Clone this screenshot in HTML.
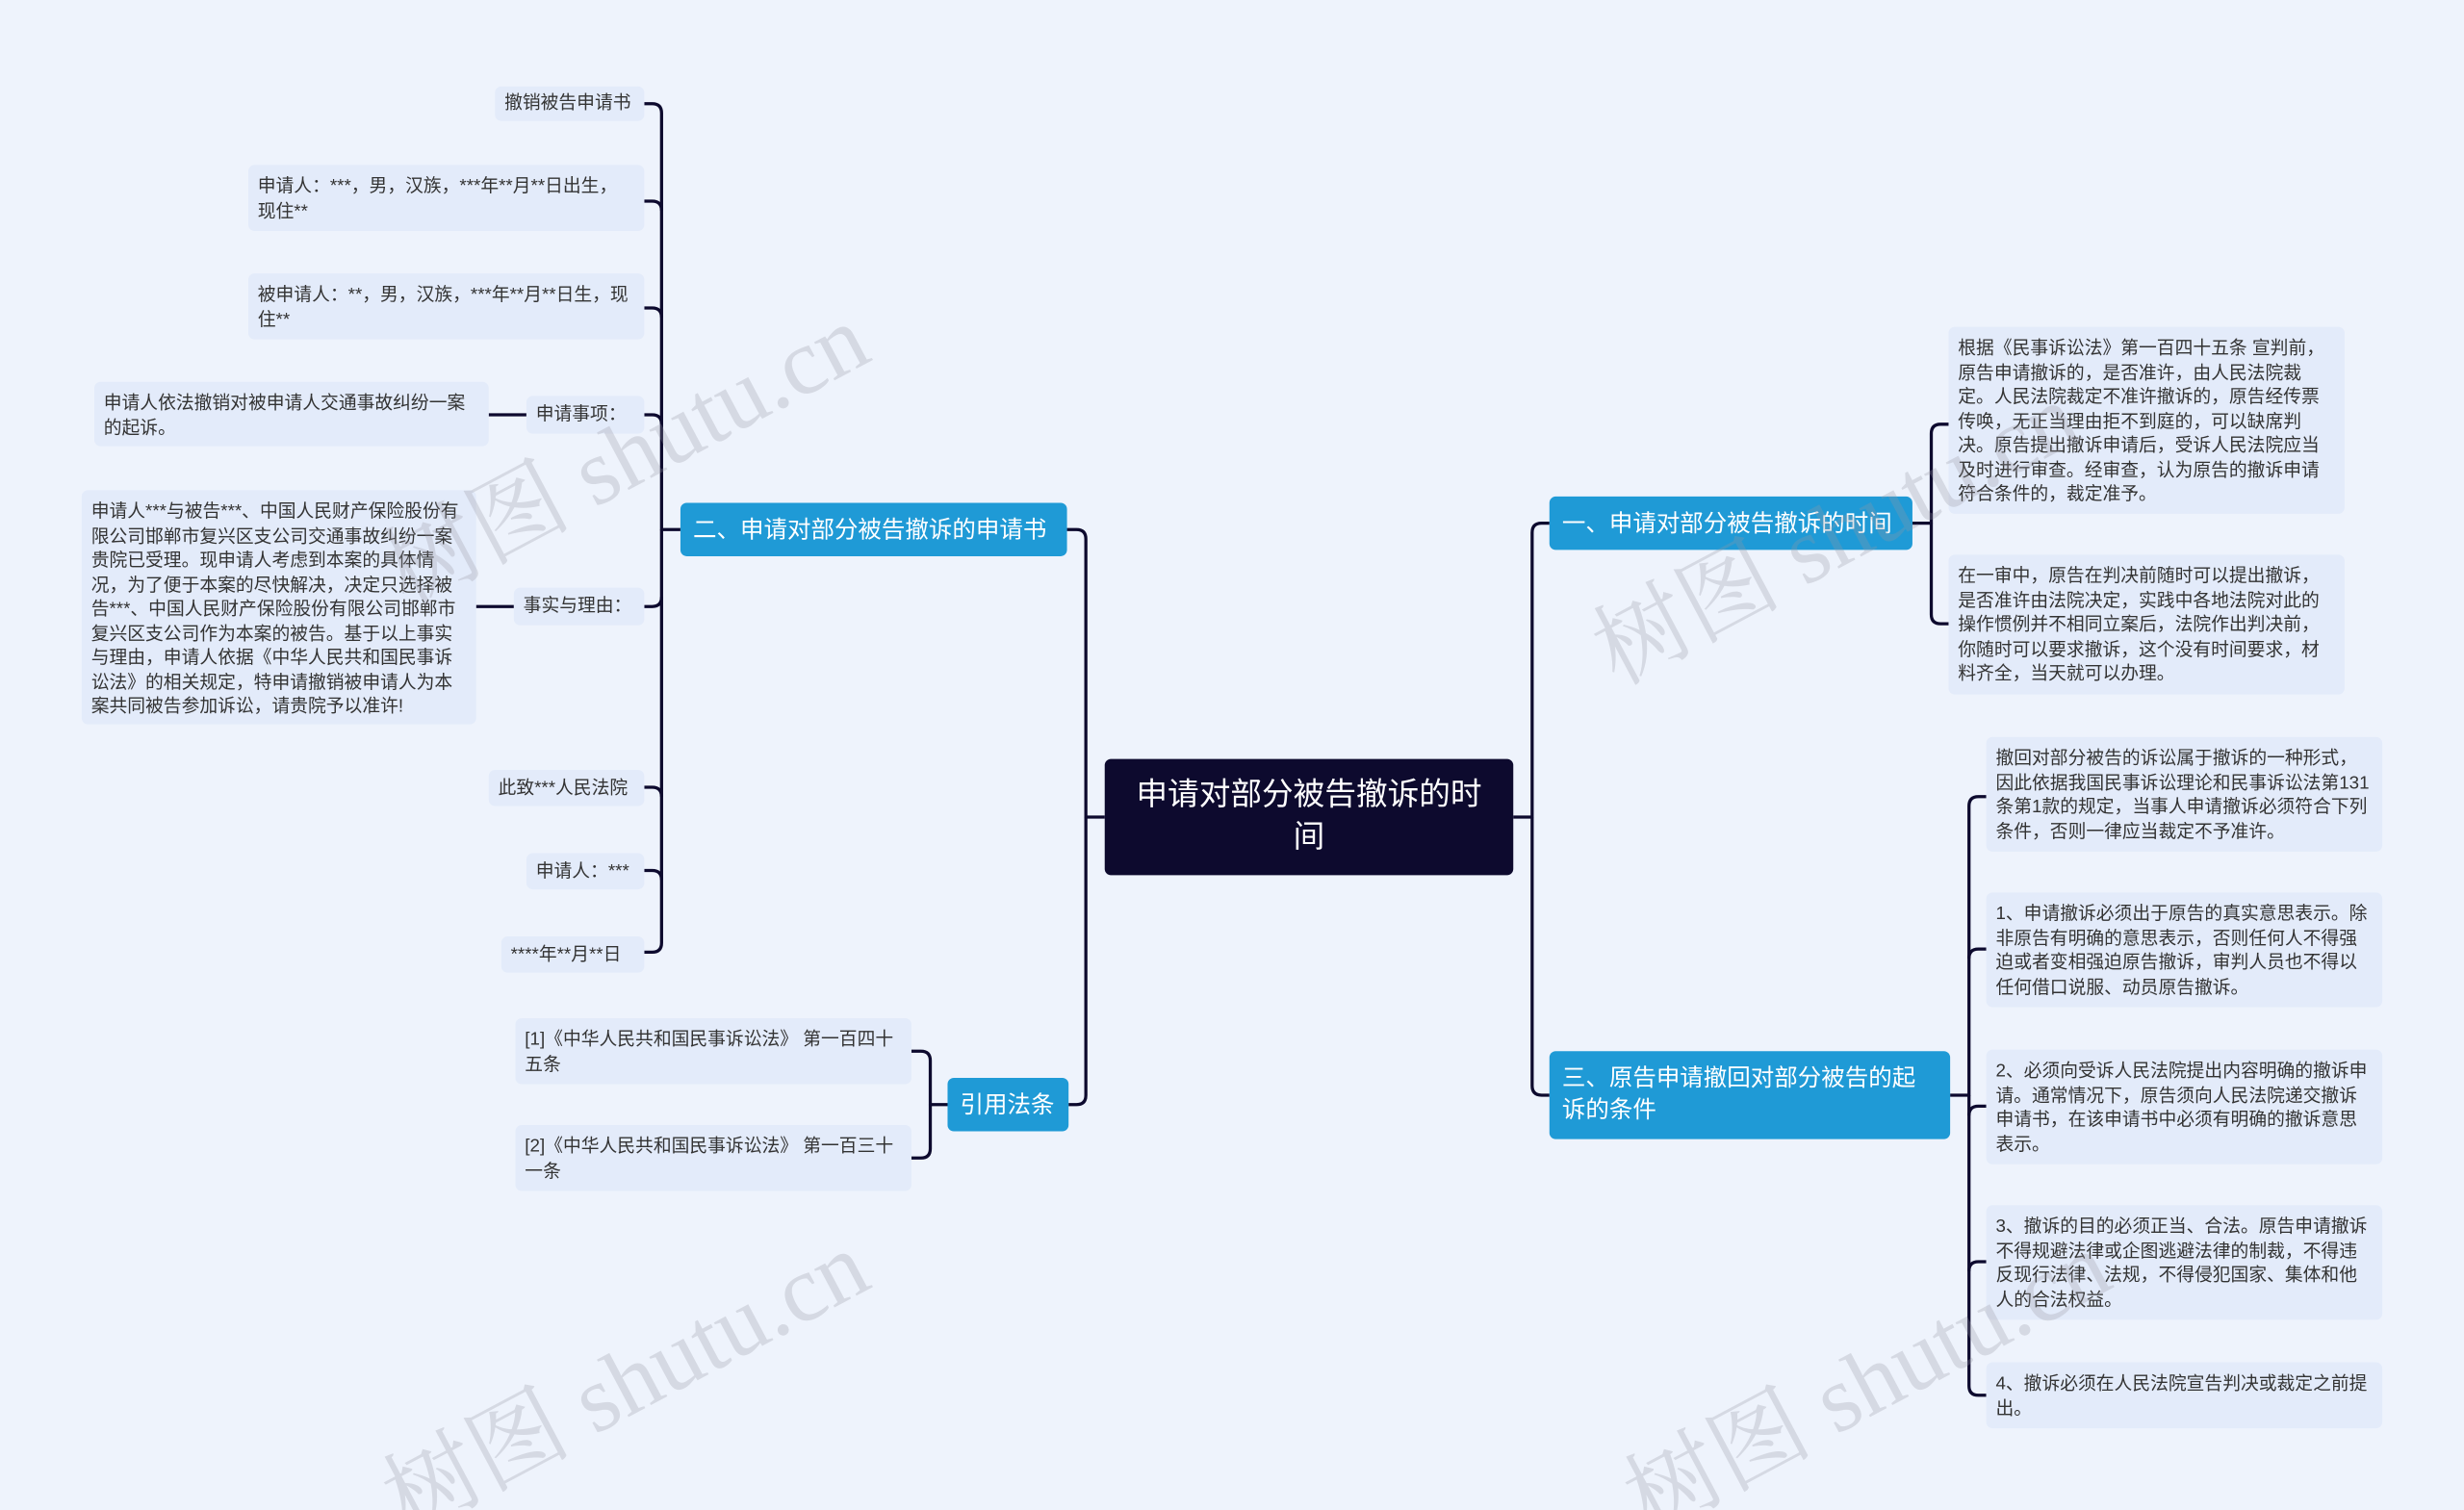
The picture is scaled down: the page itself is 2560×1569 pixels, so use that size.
<!DOCTYPE html>
<html><head><meta charset="utf-8"><style>
html,body{margin:0;padding:0;background:#eef3fc;width:2560px;height:1569px;overflow:hidden;}
#w{width:1568px;height:961px;position:relative;transform:scale(1.63265);transform-origin:0 0;overflow:hidden;font-family:"Liberation Sans","Noto Sans CJK SC",sans-serif;}
.n{position:absolute;box-sizing:border-box;font-size:11.5px;line-height:15.5px;color:#333;background:#e3ebfa;border-radius:4px;padding:7px 6px 5px 6px;}
.b{position:absolute;box-sizing:border-box;background:#1f9ad6;color:#fff;font-size:15px;line-height:20px;border-radius:4px;padding:8px 8px 6px 8px;}
.c{position:absolute;box-sizing:border-box;background:#0d0a2e;color:#fff;font-size:20px;line-height:27px;border-radius:4px;text-align:center;padding:10px 12px;}
.wm{position:absolute;font-size:60px;line-height:60px;color:rgba(150,150,160,0.28);transform:rotate(-28deg);white-space:nowrap;font-family:"Liberation Serif","Noto Serif CJK SC",serif;}
</style></head><body><div id="w">
<svg width="1568" height="961" style="position:absolute;left:0;top:0" fill="none" stroke="#0d0a2e" stroke-width="2" stroke-linejoin="round">
<path d="M703 520 H691 V343 Q691 337 685 337 H679"/>
<path d="M691 520 V697 Q691 703 685 703 H680"/>
<path d="M963 520 H975 V339 Q975 333 981 333 H986"/>
<path d="M975 520 V691 Q975 697 981 697 H986"/>
<path d="M433 337 H421 V72 Q421 66 415 66 H410"/>
<path d="M421 134 Q421 128 415 128 H410"/>
<path d="M421 202 Q421 196 415 196 H410"/>
<path d="M421 270 Q421 264 415 264 H410"/>
<path d="M421 337 V380 Q421 386 415 386 H410"/>
<path d="M421 380 V600 Q421 606 415 606 H410"/>
<path d="M421 507 Q421 501 415 501 H410"/>
<path d="M421 560 Q421 554 415 554 H410"/>
<path d="M335 264 H311"/>
<path d="M327 386 H303"/>
<path d="M603 703 H592 V675 Q592 669 586 669 H580"/>
<path d="M592 703 V731 Q592 737 586 737 H580"/>
<path d="M1217 333 H1229 V276 Q1229 270 1235 270 H1240"/>
<path d="M1229 333 V391 Q1229 397 1235 397 H1240"/>
<path d="M1241 697 H1253 V513 Q1253 507 1259 507 H1264"/>
<path d="M1253 610 Q1253 604 1259 604 H1264"/>
<path d="M1253 697 V882 Q1253 888 1259 888 H1264"/>
<path d="M1253 710 Q1253 704 1259 704 H1264"/>
<path d="M1253 809 Q1253 803 1259 803 H1264"/>
</svg>

<div class="c" style="left:703px;top:483px;width:260px;height:74px;">申请对部分被告撤诉的时间</div>
<div class="b" style="left:433px;top:320px;width:246px;height:34px;">二、申请对部分被告撤诉的申请书</div>
<div class="b" style="left:603px;top:686px;width:77px;height:34px;">引用法条</div>
<div class="b" style="left:986px;top:316px;width:231px;height:34px;">一、申请对部分被告撤诉的时间</div>
<div class="b" style="left:986px;top:669px;width:255px;height:56px;">三、原告申请撤回对部分被告的起诉的条件</div>

<div class="n" style="left:315px;top:55px;width:95px;height:22px;padding-top:4px;">撤销被告申请书</div>
<div class="n" style="left:158px;top:105px;width:252px;height:42px;">申请人：***，男，汉族，***年**月**日出生，现住**</div>
<div class="n" style="left:158px;top:174px;width:252px;height:42px;">被申请人：**，男，汉族，***年**月**日生，现住**</div>
<div class="n" style="left:335px;top:252px;width:75px;height:24px;padding-top:5px;">申请事项：</div>
<div class="n" style="left:60px;top:243px;width:251px;height:41px;">申请人依法撤销对被申请人交通事故纠纷一案的起诉。</div>
<div class="n" style="left:327px;top:374px;width:83px;height:24px;padding-top:5px;">事实与理由：</div>
<div class="n" style="left:52px;top:312px;width:251px;height:149px;">申请人***与被告***、中国人民财产保险股份有限公司邯郸市复兴区支公司交通事故纠纷一案贵院已受理。现申请人考虑到本案的具体情况，为了便于本案的尽快解决，决定只选择被告***、中国人民财产保险股份有限公司邯郸市复兴区支公司作为本案的被告。基于以上事实与理由，申请人依据《中华人民共和国民事诉讼法》的相关规定，特申请撤销被申请人为本案共同被告参加诉讼，请贵院予以准许!</div>
<div class="n" style="left:311px;top:490px;width:99px;height:23px;padding-top:5px;">此致***人民法院</div>
<div class="n" style="left:335px;top:543px;width:75px;height:23px;padding-top:5px;">申请人：***</div>
<div class="n" style="left:319px;top:596px;width:91px;height:23px;padding-top:5px;">****年**月**日</div>

<div class="n" style="left:328px;top:648px;width:252px;height:42px;">[1]《中华人民共和国民事诉讼法》 第一百四十五条</div>
<div class="n" style="left:328px;top:716px;width:252px;height:42px;">[2]《中华人民共和国民事诉讼法》 第一百三十一条</div>

<div class="n" style="left:1240px;top:208px;width:252px;height:119px;">根据《民事诉讼法》第一百四十五条 宣判前，原告申请撤诉的，是否准许，由人民法院裁定。人民法院裁定不准许撤诉的，原告经传票传唤，无正当理由拒不到庭的，可以缺席判决。原告提出撤诉申请后，受诉人民法院应当及时进行审查。经审查，认为原告的撤诉申请符合条件的，裁定准予。</div>
<div class="n" style="left:1240px;top:353px;width:252px;height:89px;">在一审中，原告在判决前随时可以提出撤诉，是否准许由法院决定，实践中各地法院对此的操作惯例并不相同立案后，法院作出判决前，你随时可以要求撤诉，这个没有时间要求，材料齐全，当天就可以办理。</div>

<div class="n" style="left:1264px;top:469px;width:252px;height:73px;">撤回对部分被告的诉讼属于撤诉的一种形式，因此依据我国民事诉讼理论和民事诉讼法第131条第1款的规定，当事人申请撤诉必须符合下列条件，否则一律应当裁定不予准许。</div>
<div class="n" style="left:1264px;top:568px;width:252px;height:73px;">1、申请撤诉必须出于原告的真实意思表示。除非原告有明确的意思表示，否则任何人不得强迫或者变相强迫原告撤诉，审判人员也不得以任何借口说服、动员原告撤诉。</div>
<div class="n" style="left:1264px;top:668px;width:252px;height:73px;">2、必须向受诉人民法院提出内容明确的撤诉申请。通常情况下，原告须向人民法院递交撤诉申请书，在该申请书中必须有明确的撤诉意思表示。</div>
<div class="n" style="left:1264px;top:767px;width:252px;height:73px;">3、撤诉的目的必须正当、合法。原告申请撤诉不得规避法律或企图逃避法律的制裁，不得违反现行法律、法规，不得侵犯国家、集体和他人的合法权益。</div>
<div class="n" style="left:1264px;top:867px;width:252px;height:42px;">4、撤诉必须在人民法院宣告判决或裁定之前提出。</div>

<div class="wm" style="left:230px;top:260px;">树图 shutu.cn</div>
<div class="wm" style="left:1000px;top:310px;">树图 shutu.cn</div>
<div class="wm" style="left:230px;top:850px;">树图 shutu.cn</div>
<div class="wm" style="left:1020px;top:850px;">树图 shutu.cn</div>
</div></body></html>
